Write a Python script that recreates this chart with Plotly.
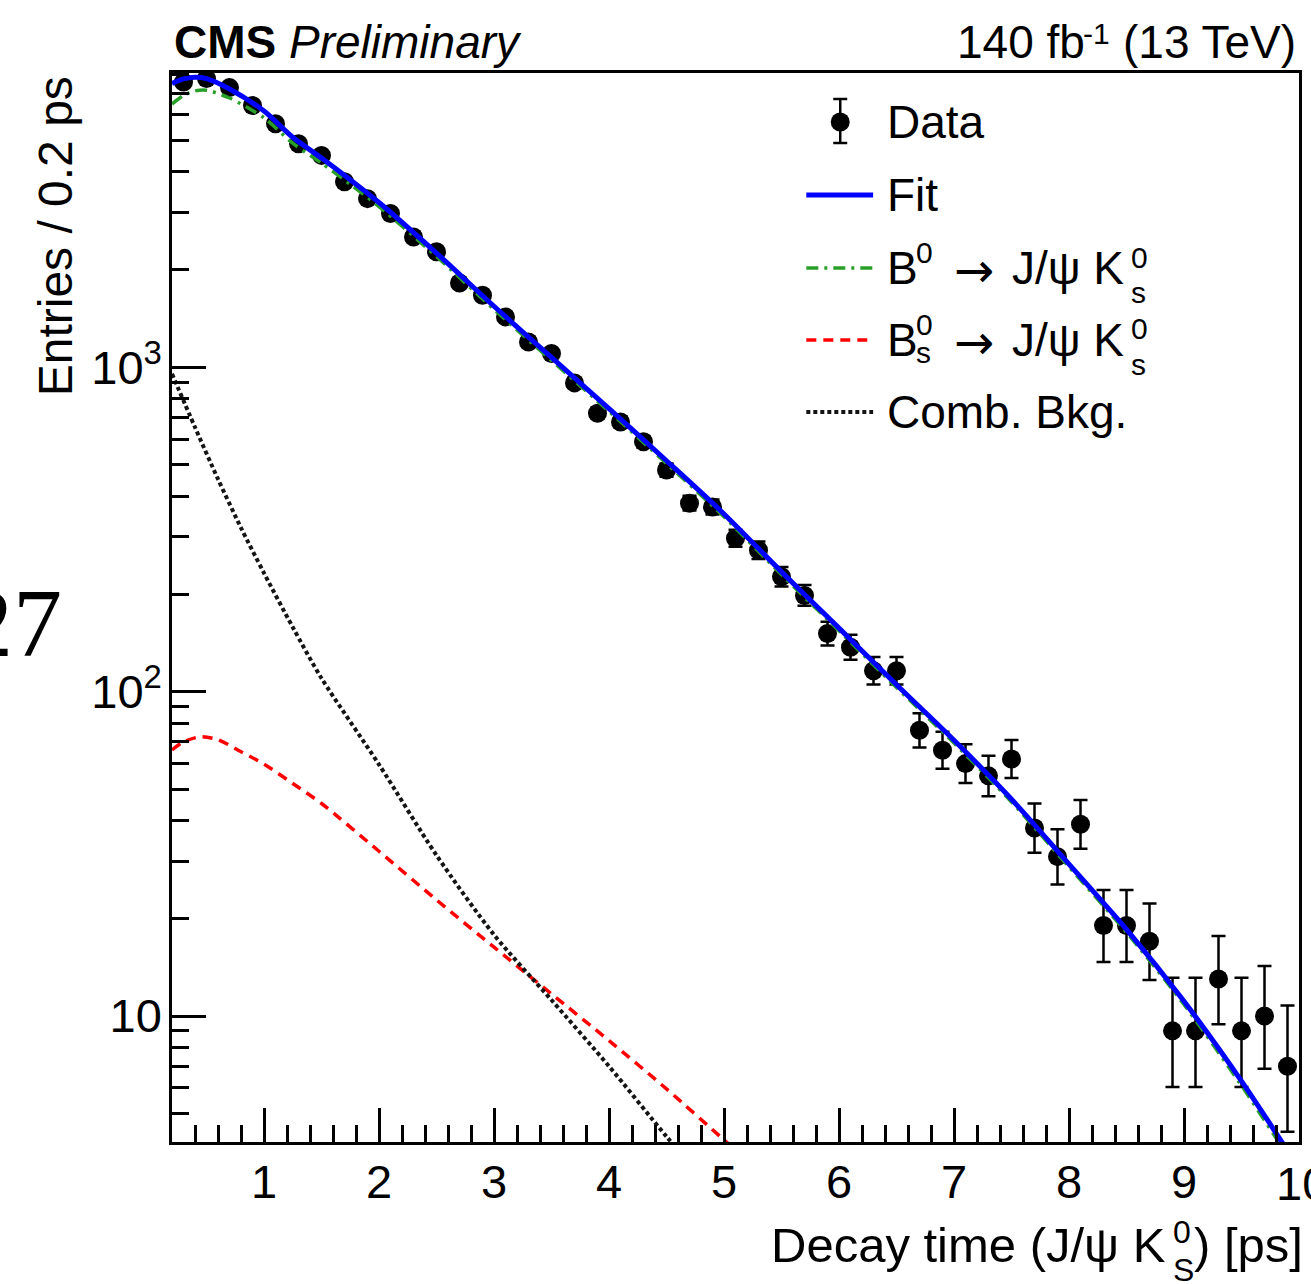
import plotly.graph_objects as go

# ---------------- data ----------------
decay_time = [0.3, 0.5, 0.7, 0.9, 1.1, 1.3, 1.5, 1.7, 1.9, 2.1, 2.3, 2.5, 2.7, 2.9,
              3.1, 3.3, 3.5, 3.7, 3.9, 4.1, 4.3, 4.5, 4.7, 4.9, 5.1, 5.3, 5.5, 5.7,
              5.9, 6.1, 6.3, 6.5, 6.7, 6.9, 7.1, 7.3, 7.5, 7.7, 7.9, 8.1, 8.3, 8.5,
              8.7, 8.9, 9.1, 9.3, 9.5, 9.7, 9.9]
counts = [7570, 7760, 7280, 6410, 5630, 4890, 4500, 3730, 3310, 2980, 2520, 2270,
          1820, 1667, 1430, 1197, 1102, 895, 722, 678, 589, 482, 381, 371, 297, 273,
          226, 198, 151, 137, 116, 116, 76, 66, 60, 55, 62, 38, 31, 39, 19, 19, 17,
          9, 9, 13, 9, 10, 7]
err_hi = [88, 89, 86, 81, 76, 71, 68, 62, 59, 56, 51, 49, 44, 42, 39, 36, 34, 31,
          28, 27, 25, 23, 20.5, 20.3, 18.3, 17.5, 16.1, 15.1, 13.3, 12.7, 11.8, 11.8,
          9.76, 9.17, 8.79, 8.47, 8.92, 7.23, 6.63, 7.30, 5.44, 5.44, 5.21, 4.12,
          4.12, 4.64, 4.12, 4.27, 3.78]
err_lo = [87, 88, 85, 80, 75, 70, 67, 61, 58, 55, 50, 48, 43, 41, 38, 35, 33, 30,
          27, 26, 24, 22, 19.5, 19.3, 17.2, 16.5, 15.0, 14.1, 12.3, 11.7, 10.8, 10.8,
          8.70, 8.11, 7.73, 7.40, 7.86, 6.14, 5.55, 6.22, 4.33, 4.33, 4.09, 2.96,
          2.96, 3.57, 2.96, 3.12, 2.60]

fit_t = [0.2, 0.3, 0.4, 0.5, 0.7, 1.0, 1.25, 1.5, 1.75, 2.0, 2.5, 3.0, 3.5, 4.0,
         4.5, 5.0, 5.5, 6.0, 6.5, 7.0, 7.5, 8.0, 8.5, 9.0, 9.5, 10.0]
fit_val = [7499, 7745, 7834, 7762, 7211, 6166, 5117, 4416, 3784, 3221, 2249, 1542,
           1072, 746, 515, 353, 234, 157, 105, 70.8, 46.6, 29.4, 18.5, 11.1, 6.3, 3.39]
b0_val = [6478, 6886, 7110, 7147, 6762, 5874, 4907, 4261, 3664, 3129, 2195, 1508,
          1049, 731, 505, 346, 229.5, 154, 103, 69.4, 45.7, 28.8, 18.1, 10.85, 6.1, 3.27]

bs_t = [0.2, 0.3, 0.45, 0.6, 0.8, 1.0, 1.25, 1.5, 2.0, 2.5, 3.0, 3.5, 4.0, 4.5, 5.0, 5.5]
bs_val = [66.1, 70.0, 72.6, 71.1, 65.3, 59.8, 52.1, 45.2, 32.2, 22.8, 16.3, 11.7,
          8.4, 5.96, 4.15, 2.9]

comb_t = [0.2, 0.4, 0.6, 0.8, 1.0, 1.25, 1.5, 2.0, 2.5, 3.0, 3.5, 4.0, 4.5, 5.0]
comb_val = [955, 653, 452, 320, 232, 158, 110, 59.6, 31.3, 17.8, 11.2, 7.0, 4.25, 2.63]

x_ticks = [1, 2, 3, 4, 5, 6, 7, 8, 9, 10]
y_ticks = [10, 100, 1000]
y_ticktext = ["10", "10<sup>2</sup>", "10<sup>3</sup>"]
y_minor = [5, 6, 7, 8, 9, 20, 30, 40, 50, 60, 70, 80, 90,
           200, 300, 400, 500, 600, 700, 800, 900, 2000, 3000, 4000, 5000, 6000, 7000, 8000]

# ---------------- layout geometry (pixels) ----------------
W, H = 1311, 1284
X0, X1, Y0, Y1 = 172, 1302, 73, 1142
FONT = "Liberation Sans, Arial, Helvetica, sans-serif"
ARROW_FONT = "DejaVu Sans, sans-serif"


def px(x):
    return (x - X0) / (X1 - X0)


def py(y):
    return (Y1 - y) / (Y1 - Y0)


GREEN = "rgb(40,160,40)"
DARK = "rgb(20,20,20)"

fig = go.Figure()
fig.add_trace(go.Scatter(
    x=decay_time, y=counts, mode="markers", name="Data",
    marker=dict(color="black", size=19),
    error_y=dict(type="data", symmetric=False, array=err_hi, arrayminus=err_lo,
                 color="black", thickness=2.5, width=7),
    showlegend=False))
fig.add_trace(go.Scatter(x=fit_t, y=b0_val, mode="lines", showlegend=False,
                         line=dict(color=GREEN, width=3.5, dash="12px,6px,3px,6px",
                                   shape="spline", smoothing=0.8)))
fig.add_trace(go.Scatter(x=bs_t, y=bs_val, mode="lines", showlegend=False,
                         line=dict(color="red", width=3.5, dash="10px,7px",
                                   shape="spline", smoothing=0.8)))
fig.add_trace(go.Scatter(x=comb_t, y=comb_val, mode="lines", showlegend=False,
                         line=dict(color=DARK, width=4, dash="4px,3px",
                                   shape="spline", smoothing=0.8)))
fig.add_trace(go.Scatter(x=fit_t, y=fit_val, mode="lines", showlegend=False,
                         line=dict(color="blue", width=5, shape="spline", smoothing=0.8)))

shapes = []
annotations = []


def text(s, x, y, size, xanchor="left", yanchor="middle", family=FONT, angle=0):
    annotations.append(dict(text=s, x=px(x), y=py(y), xref="paper", yref="paper",
                            xanchor=xanchor, yanchor=yanchor, showarrow=False,
                            borderpad=0, textangle=angle,
                            font=dict(size=size, family=family, color="black")))


def line(x0, y0, x1, y1, color, width, dash="solid"):
    shapes.append(dict(type="line", xref="paper", yref="paper",
                       x0=px(x0), y0=py(y0), x1=px(x1), y1=py(y1),
                       line=dict(color=color, width=width, dash=dash)))


# ---- legend (drawn by hand) ----
LS = 46
SS = 30
# Data
line(842, 99, 842, 143, "black", 2.5)
line(835, 99, 849, 99, "black", 2.5)
line(835, 143, 849, 143, "black", 2.5)
shapes.append(dict(type="circle", xref="paper", yref="paper", xsizemode="pixel",
                   ysizemode="pixel", xanchor=px(842), yanchor=py(122),
                   x0=-9.5, x1=9.5, y0=-9.5, y1=9.5,
                   fillcolor="black", line=dict(color="black", width=0)))
text("Data", 888, 122, LS)
# Fit
line(808, 195, 875, 195, "blue", 5)
text("Fit", 888, 195, LS)
# B0
line(808, 268, 875, 268, GREEN, 3.5, "12px,6px,3px,6px")
text("B", 888, 268, LS)
text("0", 917, 253, SS)
text("\u2192", 955, 270, 48, family=ARROW_FONT)
text("J/\u03c8 K", 1013, 268, LS)
text("0", 1133, 257, SS)
text("s", 1133, 292, SS)
# Bs
line(808, 340, 875, 340, "red", 3.5, "10px,7px")
text("B", 888, 340, LS)
text("0", 917, 324, SS)
text("s", 917, 353, SS)
text("\u2192", 955, 342, 48, family=ARROW_FONT)
text("J/\u03c8 K", 1013, 340, LS)
text("0", 1133, 329, SS)
text("s", 1133, 364, SS)
# Comb
line(808, 412, 875, 412, DARK, 4, "4px,3px")
text("Comb. Bkg.", 888, 412, LS)

# ---- header ----
text("<b>CMS</b> <i>Preliminary</i>", 173, 42, 46)
text("(13 TeV)", 1300, 42, 46, xanchor="right")
text("-1", 1114, 33, SS, xanchor="right")
text("140 fb", 1088, 42, 46, xanchor="right")

# ---- axis titles ----
text("Entries / 0.2 ps", 55, 236, 48, xanchor="center", angle=-90)
text("Decay time (J/\u03c8 K", 772, 1245, 49)
text("0", 1175, 1232, 32)
text("S", 1175, 1270, 32)
text(") [ps]", 1196, 1245, 49)
# last x tick label sits on the right edge and is cut by the page border
text("10", 1305, 1183, 47, xanchor="center")

# ---- stray page number at the left edge ----
text("27", 63, 623, 98, xanchor="right", family="Liberation Serif, Times New Roman, serif")

axis_common = dict(showgrid=False, zeroline=False, showline=True, linecolor="black",
                   linewidth=2.5, mirror=True, ticks="inside", ticklen=34, tickwidth=2.5,
                   tickcolor="black", tickfont=dict(size=47, family=FONT, color="black"))

fig.update_layout(
    width=W, height=H,
    margin=dict(l=X0, r=W - X1, t=Y0, b=H - Y1, pad=0),
    paper_bgcolor="white", plot_bgcolor="white",
    font=dict(family=FONT, color="black"),
    showlegend=False,
    xaxis=dict(range=[0.2, 10], tickvals=x_ticks, ticklabelstandoff=-3,
               minor=dict(ticks="inside", ticklen=17, tickwidth=2.5, tickcolor="black",
                          dtick=0.2, tick0=0, showgrid=False),
               **axis_common),
    yaxis=dict(type="log", range=[0.6116, 3.9072], tickvals=y_ticks, ticktext=y_ticktext,
               ticklabelstandoff=-2,
               minor=dict(ticks="inside", ticklen=17, tickwidth=2.5, tickcolor="black",
                          tickvals=y_minor, showgrid=False),
               **axis_common),
    shapes=shapes,
    annotations=annotations,
)

fig.write_html("out.html")
